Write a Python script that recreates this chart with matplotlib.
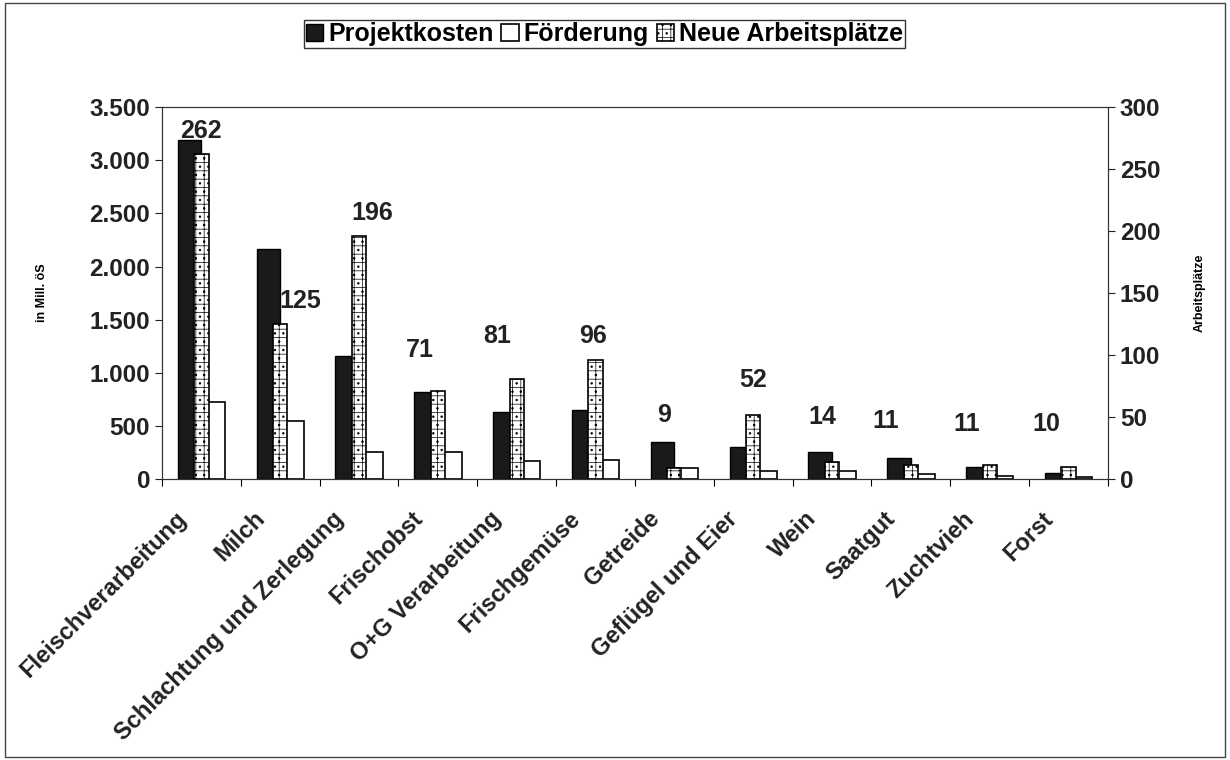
import matplotlib.pyplot as plt
import matplotlib.transforms as mtransforms
import numpy as np
from matplotlib.patches import Rectangle

plt.rcParams['font.family'] = ['Liberation Sans', 'DejaVu Sans']
plt.rcParams['font.weight'] = 'bold'
plt.rcParams['hatch.linewidth'] = 0.5

categories = ['Fleischverarbeitung', 'Milch', 'Schlachtung und Zerlegung', 'Frischobst',
              'O+G Verarbeitung', 'Frischgemüse', 'Getreide', 'Geflügel und Eier',
              'Wein', 'Saatgut', 'Zuchtvieh', 'Forst']
projektkosten = [3190, 2165, 1155, 820, 630, 650, 350, 300, 255, 200, 115, 55]
foerderung = [725, 545, 255, 255, 170, 180, 105, 75, 75, 48, 28, 18]
arbeitsplaetze = [262, 125, 196, 71, 81, 96, 9, 52, 14, 11, 11, 10]

# where the job-count labels sit (category offset, right-axis height)
label_dx = [0.0, 0.25, 0.17, -0.23, -0.25, -0.03, -0.13, 0.0, -0.13, -0.32, -0.29, -0.28]
label_y = [281, 144, 215, 104, 115, 115, 52, 80, 50, 47, 44, 44]

x = np.arange(len(categories))
w = 0.30

fig = plt.figure(figsize=(12.3, 7.6), dpi=100)
ax = fig.add_axes([0.1317, 0.3697, 0.7691, 0.4893])
ax2 = ax.twinx()

b1 = ax.bar(x - w / 2, projektkosten, w, color='#1a1a1a', edgecolor='black', linewidth=1, zorder=2)
b2 = ax.bar(x + w / 2, foerderung, w, color='white', edgecolor='black', linewidth=1.2, zorder=2)
b3 = ax2.bar(x, arbeitsplaetze, 0.18, color='white', edgecolor='black', linewidth=1.2,
             hatch='++..', zorder=3)

for i, v in enumerate(arbeitsplaetze):
    ax2.text(x[i] + label_dx[i], label_y[i], str(v), ha='center', va='center',
             fontsize=18, fontweight='bold', color='#222222')

ax.set_xlim(-0.5, len(categories) - 0.5)
ax.set_ylim(0, 3500)
ax2.set_ylim(0, 300)
ax.set_yticks(np.arange(0, 3501, 500))
ax.set_yticklabels(['0', '500', '1.000', '1.500', '2.000', '2.500', '3.000', '3.500'])
ax2.set_yticks(np.arange(0, 301, 50))

# category names, rotated 45 degrees below the axis
ax.set_xticks(np.arange(-0.5, len(categories), 1))
ax.set_xticklabels([])
ax.tick_params(axis='x', length=5, direction='out')
shift = mtransforms.ScaledTranslation(-0.27, -0.28, fig.dpi_scale_trans)
for i, name in enumerate(categories):
    ax.text(x[i], 0, name, transform=ax.get_xaxis_transform() + shift,
            rotation=45, ha='right', va='top', rotation_mode='anchor',
            fontsize=17, fontweight='bold', color='#222222')

ax.tick_params(axis='y', labelsize=17.5, length=5, direction='out', colors='#222222')
ax2.tick_params(axis='y', labelsize=17.5, length=5, direction='out', colors='#222222')
for lab in ax.get_yticklabels() + ax2.get_yticklabels():
    lab.set_fontweight('bold')

for a in (ax, ax2):
    for s in a.spines.values():
        s.set_linewidth(0.8)
        s.set_color('#333333')

ax.set_ylabel('in Mill. öS', fontsize=9, fontweight='bold', labelpad=30)
ax2.set_ylabel('Arbeitsplätze', fontsize=9, fontweight='bold', labelpad=24)

leg = fig.legend([b1, b2, b3], ['Projektkosten', 'Förderung', 'Neue Arbeitsplätze'],
                 loc='upper center', bbox_to_anchor=(0.4915, 0.98), ncol=3, frameon=True,
                 fancybox=False, edgecolor='black', handlelength=0.7,
                 handleheight=0.7, handletextpad=0.2, columnspacing=0.3,
                 borderpad=0.08, borderaxespad=0.2, prop={'weight': 'bold', 'size': 18})
leg.get_frame().set_linewidth(1.0)

fig.patches.append(Rectangle((0.004, 0.004), 0.992, 0.992, transform=fig.transFigure,
                             fill=False, edgecolor='#444444', linewidth=1))

fig.savefig('out.png', dpi=100, facecolor='white')
